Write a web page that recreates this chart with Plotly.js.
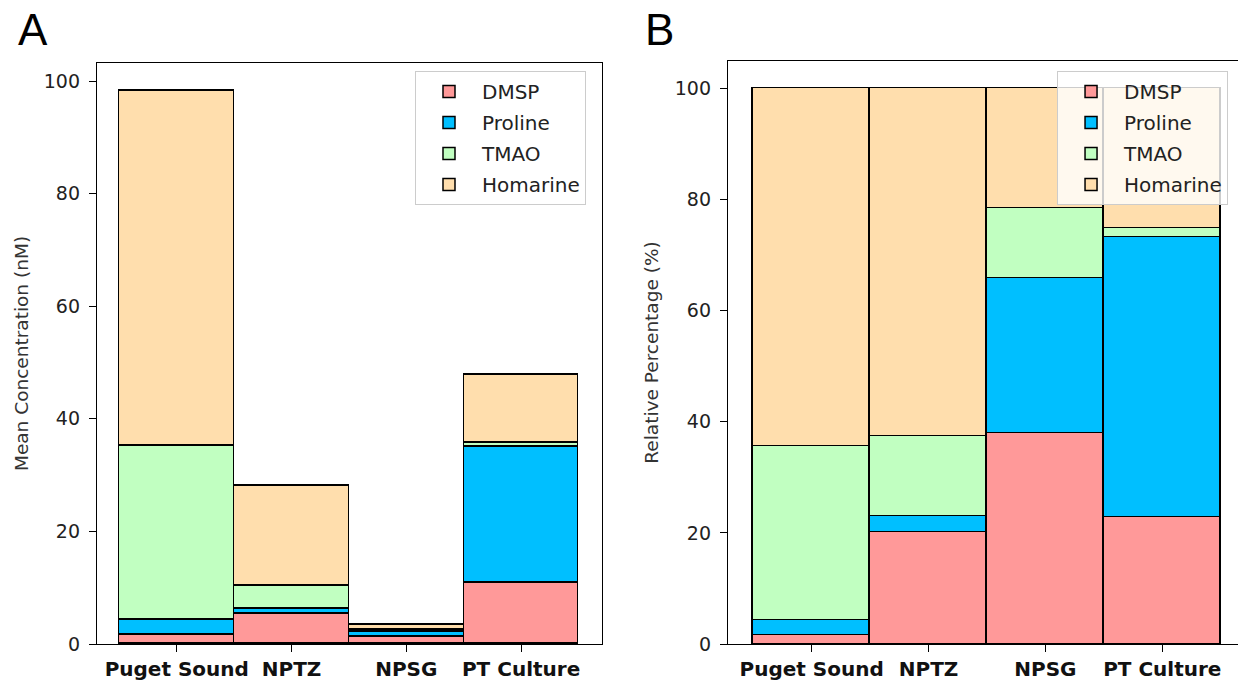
<!DOCTYPE html>
<html>
<head>
<meta charset="utf-8">
<script src="https://cdn.plot.ly/plotly-3.0.1.min.js"></script>
<style>html,body{margin:0;padding:0;background:#fff;}#chart{width:1238px;height:683px;}</style>
</head>
<body>
<div id="chart"></div>
<script>
// Categories and series names
const categories = ['Puget Sound', 'NPTZ', 'NPSG', 'PT Culture'];
const seriesNames = ['DMSP', 'Proline', 'TMAO', 'Homarine'];

// Panel A: mean concentration (nM), stacked segment values
const concDMSP     = [1.6, 5.4, 1.2, 10.8];
const concProline  = [2.6, 0.85, 0.85, 24.2];
const concTMAO     = [31.0, 4.05, 0.45, 0.7];
const concHomarine = [63.0, 17.7, 0.9, 12.1];

// Panel B: relative percentage (%), stacked segment values
const pctDMSP     = [1.7, 20.2, 37.9, 22.8];
const pctProline  = [2.6, 2.8, 27.9, 50.4];
const pctTMAO     = [31.3, 14.4, 12.6, 1.6];
const pctHomarine = [64.4, 62.6, 21.6, 25.2];

const yTicks = [0, 20, 40, 60, 80, 100];

const colors = ['#ff9999', '#00bfff', '#c1ffc1', '#ffdead'];
const concSeries = [concDMSP, concProline, concTMAO, concHomarine];
const pctSeries = [pctDMSP, pctProline, pctTMAO, pctHomarine];

const traces = [];
concSeries.forEach((vals, i) => {
  traces.push({
    type: 'bar', x: categories, y: vals, name: seriesNames[i],
    xaxis: 'x', yaxis: 'y', width: 1, legend: 'legend', legendgroup: 'a' + i,
    marker: {color: colors[i], line: {color: '#000', width: 1.5}},
    hoverinfo: 'x+y+name'
  });
});
pctSeries.forEach((vals, i) => {
  traces.push({
    type: 'bar', x: categories, y: vals, name: seriesNames[i],
    xaxis: 'x2', yaxis: 'y2', width: 1, legend: 'legend2', legendgroup: 'b' + i,
    marker: {color: colors[i], line: {color: '#000', width: 1.5}},
    hoverinfo: 'x+y+name'
  });
});

const tickFontY = {family: 'DejaVu Sans', size: 19, color: '#222'};
const tickFontX = {family: 'DejaVu Sans', size: 20, color: '#111', weight: 'bold'};
const titleFont = {family: 'DejaVu Sans', size: 18.5, color: '#333'};
const legendFont = {family: 'DejaVu Sans', size: 20, color: '#222'};

const xCommon = {
  type: 'category', showgrid: false, zeroline: false,
  showline: true, linecolor: '#000', linewidth: 1.3,
  ticks: 'outside', ticklen: 7, tickcolor: '#000', tickwidth: 1.3,
  tickfont: tickFontX, fixedrange: true
};
const yCommon = {
  showgrid: false, zeroline: false,
  showline: true, linecolor: '#000', linewidth: 1.3,
  ticks: 'outside', ticklen: 7, tickcolor: '#000', tickwidth: 1.3,
  ticklabelstandoff: 5,
  tickvals: yTicks, tickfont: tickFontY, fixedrange: true
};

const legendCommon = {
  xanchor: 'left', yanchor: 'top', traceorder: 'grouped',
  bgcolor: 'rgba(255,255,255,0.8)', bordercolor: '#cccccc', borderwidth: 1,
  font: legendFont, itemwidth: 56, tracegroupgap: 2, itemclick: false, itemdoubleclick: false
};

const layout = {
  width: 1238, height: 683,
  margin: {l: 97, r: 0, t: 61, b: 39},
  paper_bgcolor: '#fff', plot_bgcolor: '#fff',
  barmode: 'stack', bargap: 0,
  showlegend: true,
  xaxis: Object.assign({}, xCommon, {domain: [0, 0.4426], anchor: 'y', range: [-0.695, 3.705], mirror: true}),
  yaxis: Object.assign({}, yCommon, {domain: [0, 0.9966], anchor: 'x', range: [0, 103.2], mirror: true,
    title: {text: 'Mean Concentration (nM)', font: titleFont, standoff: 10}}),
  xaxis2: Object.assign({}, xCommon, {domain: [0.553, 1], anchor: 'y2', range: [-0.716, 3.648], mirror: true}),
  yaxis2: Object.assign({}, yCommon, {domain: [0, 1], anchor: 'x2', range: [0, 104.9], mirror: false,
    title: {text: 'Relative Percentage (%)', font: titleFont, standoff: 11}}),
  legend: Object.assign({}, legendCommon, {x: 0.2787, y: 0.9828}),
  legend2: Object.assign({}, legendCommon, {x: 0.8414, y: 0.9828}),
  annotations: [
    {text: 'A', xref: 'paper', yref: 'paper', x: (16 - 97) / 1141, y: 1.0532, xanchor: 'left', yanchor: 'middle',
     showarrow: false, font: {family: 'Liberation Sans', size: 44, color: '#000'}},
    {text: 'B', xref: 'paper', yref: 'paper', x: (643 - 97) / 1141, y: 1.0532, xanchor: 'left', yanchor: 'middle',
     showarrow: false, font: {family: 'Liberation Sans', size: 44, color: '#000'}}
  ]
};

Plotly.newPlot('chart', traces, layout, {displayModeBar: false});
</script>
</body>
</html>
